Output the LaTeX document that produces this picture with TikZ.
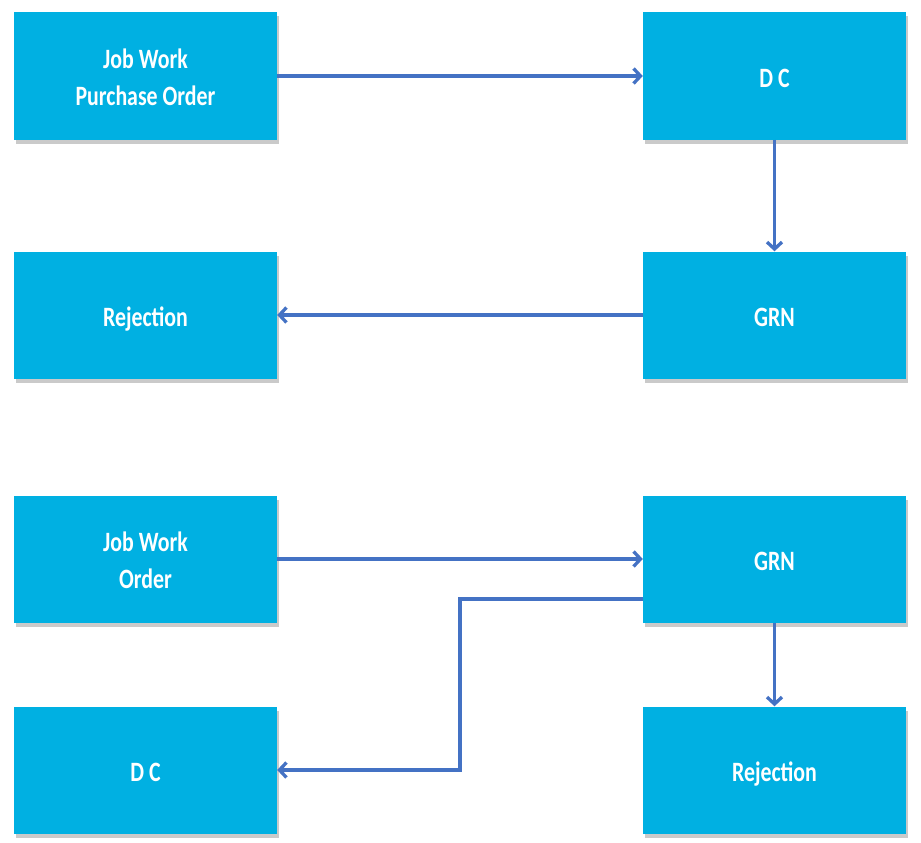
\documentclass[tikz,border=0pt]{standalone}
\usepackage{fontspec}
\setmainfont{Carlito}
\usetikzlibrary{arrows.meta,shadows}
\definecolor{boxcyan}{HTML}{00B0E2}
\definecolor{arrblue}{HTML}{4472C4}
\newcommand{\boxlbl}[1]{\scalebox{0.78}[1]{\fontsize{28}{37}\selectfont\bfseries\begin{tabular}{@{}c@{}}#1\end{tabular}}}
\tikzset{
  procbox/.style={rectangle, fill=boxcyan, minimum width=263pt, minimum height=127pt, inner sep=0pt,
    drop shadow={shadow xshift=2pt, shadow yshift=-4pt, opacity=0.35, fill=black!60}},
  boxtext/.style={text=white, inner sep=0pt, yshift=-4pt},
  conn/.style={draw=arrblue, line width=3.3pt, -{Straight Barb[length=7pt,width=15pt]}}
}
\begin{document}
\begin{tikzpicture}[x=1pt,y=-1pt]
\useasboundingbox (0,0) rectangle (921,843);
\node[procbox, label={[boxtext]center:\boxlbl{Job Work\\Purchase Order}}] (jwpo) at (145.5,76) {};
\node[procbox, label={[boxtext]center:\boxlbl{D C}}] (dc1) at (774.5,76) {};
\node[procbox, label={[boxtext]center:\boxlbl{Rejection}}] (rej1) at (145.5,315) {};
\node[procbox, label={[boxtext]center:\boxlbl{GRN}}] (grn1) at (774.5,315) {};
\node[procbox, label={[boxtext]center:\boxlbl{Job Work\\Order}}] (jwo) at (145.5,559) {};
\node[procbox, label={[boxtext]center:\boxlbl{GRN}}] (grn2) at (774.5,559) {};
\node[procbox, label={[boxtext]center:\boxlbl{D C}}] (dc2) at (145.5,770) {};
\node[procbox, label={[boxtext]center:\boxlbl{Rejection}}] (rej2) at (774.5,770) {};
\coordinate (bendA) at (460,599);
\coordinate (bendB) at (460,770);
\draw[conn] (jwpo.east) -- (dc1.west);
\draw[conn] (dc1.south) -- (grn1.north);
\draw[conn] (grn1.west) -- (rej1.east);
\draw[conn] (jwo.east) -- (grn2.west);
\draw[conn] (grn2.south) -- (rej2.north);
\draw[conn] (grn2.west |- bendA) -- (bendA) -- (bendB) -- (dc2.east);
\end{tikzpicture}
\end{document}
